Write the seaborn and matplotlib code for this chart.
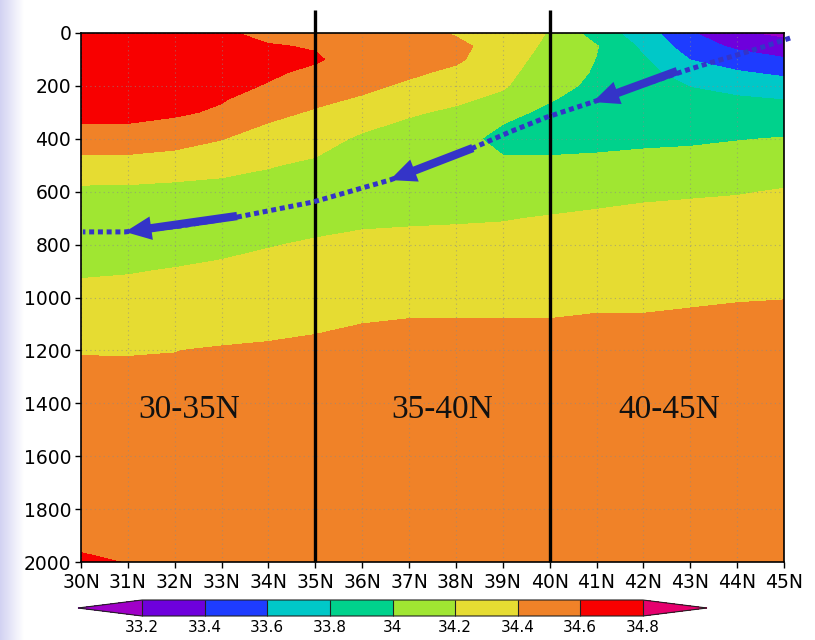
import numpy as np
import matplotlib
matplotlib.use("Agg")
import matplotlib.pyplot as plt
import seaborn as sns
from matplotlib.colors import ListedColormap, BoundaryNorm, LinearSegmentedColormap

# ---------------- data ----------------
lats = [30, 31, 32, 33, 34, 35, 36, 37, 38, 39, 40, 41, 42, 43, 44, 45]
depths = [0, 50, 100, 150, 200, 250, 300, 400, 500, 600, 700, 800, 900, 1000, 1100, 1200, 1500, 2000]

sal_30N = [34.72, 34.72, 34.71, 34.71, 34.70, 34.68, 34.66, 34.52, 34.32, 34.16, 34.11, 34.10, 34.18, 34.25, 34.32, 34.395, 34.47, 34.61]
sal_31N = [34.70, 34.70, 34.70, 34.69, 34.68, 34.67, 34.65, 34.53, 34.31, 34.16, 34.11, 34.11, 34.19, 34.26, 34.33, 34.395, 34.46, 34.598]
sal_32N = [34.69, 34.69, 34.69, 34.68, 34.67, 34.65, 34.62, 34.51, 34.25, 34.17, 34.12, 34.13, 34.21, 34.28, 34.34, 34.398, 34.46, 34.56]
sal_33N = [34.62, 34.65, 34.66, 34.66, 34.64, 34.61, 34.58, 34.405, 34.28, 34.11, 34.10, 34.16, 34.23, 34.30, 34.35, 34.41, 34.46, 34.55]
sal_34N = [34.56, 34.61, 34.63, 34.62, 34.59, 34.54, 34.45, 34.32, 34.21, 34.13, 34.11, 34.19, 34.26, 34.31, 34.36, 34.42, 34.47, 34.55]
sal_35N = [34.52, 34.59, 34.615, 34.57, 34.51, 34.44, 34.38, 34.27, 34.17, 34.12, 34.14, 34.22, 34.28, 34.33, 34.38, 34.43, 34.48, 34.55]
sal_36N = [34.52, 34.55, 34.54, 34.50, 34.44, 34.38, 34.30, 34.17, 34.10, 34.09, 34.16, 34.25, 34.30, 34.35, 34.40, 34.44, 34.49, 34.55]
sal_37N = [34.48, 34.50, 34.48, 34.43, 34.37, 34.30, 34.22, 34.12, 34.06, 34.06, 34.17, 34.26, 34.31, 34.36, 34.41, 34.44, 34.49, 34.55]
sal_38N = [34.38, 34.45, 34.43, 34.36, 34.30, 34.23, 34.17, 34.06, 34.03, 34.06, 34.18, 34.26, 34.31, 34.36, 34.41, 34.44, 34.49, 34.55]
sal_39N = [34.30, 34.31, 34.28, 34.25, 34.22, 34.16, 34.04, 33.95, 34.03, 34.08, 34.19, 34.26, 34.31, 34.36, 34.41, 34.44, 34.49, 34.55]
sal_40N = [34.19, 34.16, 34.13, 34.10, 34.06, 34.01, 33.97, 33.93, 34.04, 34.12, 34.21, 34.27, 34.32, 34.36, 34.41, 34.44, 34.49, 34.55]
sal_41N = [33.90, 34.01, 33.995, 33.98, 33.96, 33.94, 33.93, 33.93, 34.06, 34.14, 34.23, 34.28, 34.33, 34.37, 34.42, 34.45, 34.50, 34.55]
sal_42N = [33.70, 33.76, 33.82, 33.86, 33.88, 33.89, 33.90, 33.95, 34.08, 34.17, 34.24, 34.29, 34.34, 34.37, 34.42, 34.45, 34.50, 34.55]
sal_43N = [33.42, 33.50, 33.595, 33.70, 33.795, 33.84, 33.87, 33.96, 34.10, 34.18, 34.25, 34.30, 34.34, 34.38, 34.43, 34.46, 34.51, 34.55]
sal_44N = [33.22, 33.36, 33.50, 33.62, 33.74, 33.82, 33.87, 33.99, 34.11, 34.19, 34.26, 34.31, 34.35, 34.39, 34.44, 34.47, 34.51, 34.55]
sal_45N = [33.15, 33.28, 33.42, 33.56, 33.69, 33.795, 33.86, 34.01, 34.13, 34.21, 34.27, 34.32, 34.36, 34.395, 34.45, 34.48, 34.52, 34.56]

levels = [33.2, 33.4, 33.6, 33.8, 34.0, 34.2, 34.4, 34.6, 34.8]
level_labels = ["33.2", "33.4", "33.6", "33.8", "34", "34.2", "34.4", "34.6", "34.8"]
fill_colors = ["#6e00dc", "#1e3cff", "#00c8c8", "#00d28c", "#a0e632",
               "#e6dc32", "#f08228", "#f80000"]
under_color = "#a000c8"
over_color = "#e6006e"

x_ticks = [30, 31, 32, 33, 34, 35, 36, 37, 38, 39, 40, 41, 42, 43, 44, 45]
x_tick_labels = ["30N", "31N", "32N", "33N", "34N", "35N", "36N", "37N",
                 "38N", "39N", "40N", "41N", "42N", "43N", "44N", "45N"]
y_ticks = [0, 200, 400, 600, 800, 1000, 1200, 1400, 1600, 1800, 2000]

# pathway of the water mass (dotted line) and the arrows on it
path_lat = [45.13, 44.55, 44.0, 43.42, 42.93, 41.93, 40.92, 39.94, 39.15, 38.36,
            37.45, 36.59, 34.95, 33.33, 32.11, 30.94, 30.04]
path_depth = [19, 53, 83, 113, 140, 200, 261, 318, 374, 435,
              499, 556, 639, 696, 730, 752, 752]
arrow_tail_lat = [42.72, 38.36, 33.33]
arrow_tail_depth = [144, 435, 692]
arrow_head_lat = [40.92, 36.59, 30.94]
arrow_head_depth = [261, 556, 752]

divider_lats = [35, 40]
region_labels = ["30-35N", "35-40N", "40-45N"]
region_label_lat = [32.3, 37.7, 42.55]
region_label_depth = [1425, 1425, 1425]

# ---------------- figure ----------------
sns.set_style("ticks")
plt.rcParams["font.family"] = ["DejaVu Sans"]

W, H = 815, 640
fig = plt.figure(figsize=(W / 100, H / 100), dpi=100)

# lavender slide strip on the far left
bg = fig.add_axes([0, 0, 24 / W, 1], zorder=-5)
grad = np.tile(np.linspace(0, 1, 50), (10, 1))
bg.imshow(grad, aspect="auto",
          cmap=LinearSegmentedColormap.from_list("lav", ["#d2d2f2", "#ffffff"]),
          extent=[0, 1, 0, 1])
bg.axis("off")

ax = fig.add_axes([81 / W, 1 - 562 / H, (784 - 81) / W, (562 - 33) / H])

Z = np.column_stack([sal_30N, sal_31N, sal_32N, sal_33N, sal_34N, sal_35N, sal_36N,
                     sal_37N, sal_38N, sal_39N, sal_40N, sal_41N, sal_42N, sal_43N,
                     sal_44N, sal_45N])

cmap = ListedColormap(fill_colors)
cmap.set_under(under_color)
cmap.set_over(over_color)
norm = BoundaryNorm(levels, cmap.N)

cs = ax.contourf(lats, depths, Z, levels=levels, cmap=cmap, norm=norm,
                 extend="both", zorder=1)

ax.set_xlim(30, 45)
ax.set_ylim(2000, 0)
ax.set_xticks(x_ticks)
ax.set_xticklabels(x_tick_labels)
ax.set_yticks(y_ticks)
ax.set_yticklabels([str(v) for v in y_ticks])
ax.tick_params(axis="both", direction="out", length=4, width=1, pad=3,
               labelsize=13.5, colors="black")
ax.tick_params(axis="x", pad=4)
ax.set_axisbelow(False)
ax.grid(True, color="#8a8a8a", linestyle=(0, (1, 3)), linewidth=0.8, alpha=0.6)
for s in ax.spines.values():
    s.set_color("black")
    s.set_linewidth(1.2)
    s.set_zorder(6)

# divider lines (extend above the frame)
for lat in divider_lats:
    ax.plot([lat, lat], [-87, 2000], color="black", lw=2.4, clip_on=False,
            zorder=5, solid_capstyle="butt")

# region labels
for txt, lx, ly in zip(region_labels, region_label_lat, region_label_depth):
    ax.text(lx, ly, txt, family=["Liberation Serif"], fontsize=24,
            ha="center", va="center", color="#111111", zorder=7)

# dotted pathway
path_color = "#3434c8"
sns.lineplot(x=path_lat, y=path_depth, sort=False, estimator=None, ax=ax,
             color=path_color, lw=3.6, clip_on=False, zorder=8)
pline = ax.lines[-1]
pline.set_linestyle((0, (1.0, 0.75)))
pline.set_dash_capstyle("butt")

# arrows
for tl, td, hl, hd in zip(arrow_tail_lat, arrow_tail_depth, arrow_head_lat, arrow_head_depth):
    ax.annotate("", xy=(hl, hd), xytext=(tl, td),
                arrowprops=dict(arrowstyle="simple,head_length=1.9,head_width=1.7,tail_width=0.6",
                                color=path_color, lw=0, shrinkA=0, shrinkB=0,
                                mutation_scale=10),
                zorder=9)

# colorbar
cax = fig.add_axes([78 / W, 1 - 616 / H, (707 - 78) / W, 16 / H])
cb = fig.colorbar(cs, cax=cax, orientation="horizontal", extend="both",
                  extendfrac=0.128, drawedges=True, ticks=levels)
cb.set_ticklabels(level_labels)
cb.ax.tick_params(length=0, labelsize=11, pad=3, colors="black")
cb.outline.set_linewidth(0.8)
cb.outline.set_edgecolor("#222222")
cb.dividers.set_color("#222222")
cb.dividers.set_linewidth(0.8)

fig.savefig("out.png", dpi=100, facecolor="white")
